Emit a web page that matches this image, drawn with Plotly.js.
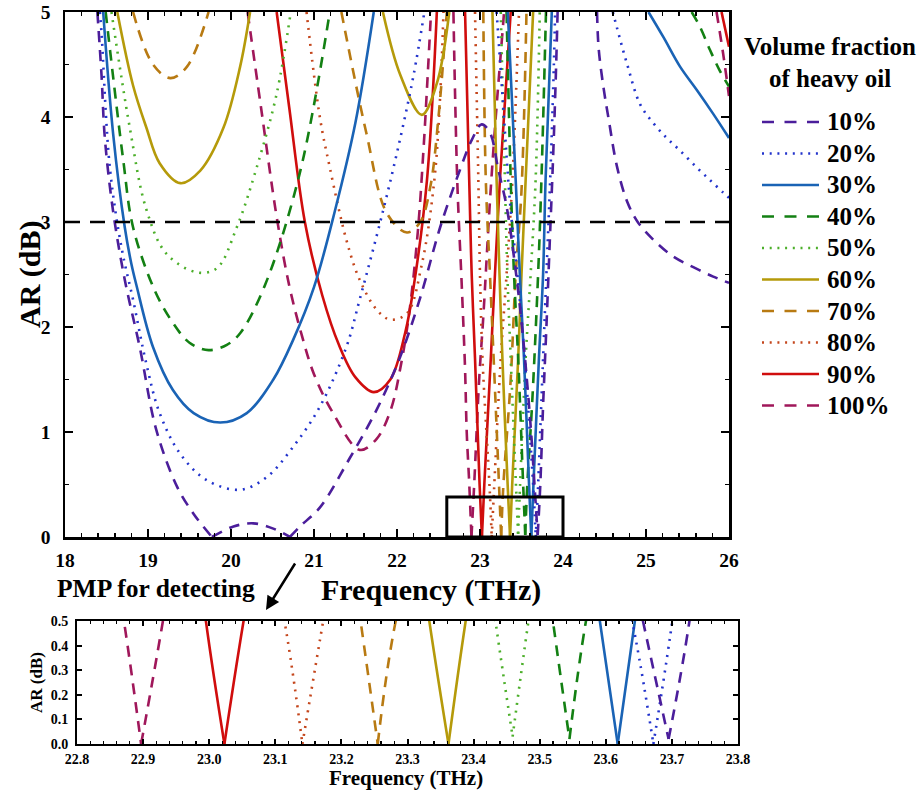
<!DOCTYPE html>
<html><head><meta charset="utf-8">
<script src="https://cdn.plot.ly/plotly-3.0.1.min.js"></script>
<style>html,body{margin:0;padding:0;background:#fff}#chart{width:922px;height:795px}</style>
</head><body><div id="chart"></div>
<script>
// ---------------- DATA ----------------
const seriesLabels = ['10%','20%','30%','40%','50%','60%','70%','80%','90%','100%'];

const freq10 = [18.39,18.44,18.48,18.58,18.72,18.9,19.1,19.35,19.55,19.77,20.03,20.27,20.51,20.71,20.83,21.07,21.43,21.76,22.04,22.28,22.52,22.76,22.9,23.02,23.12,23.22,23.32,23.42,23.5,23.57,23.62,23.657,23.695,23.726,23.76,23.8,23.84,23.88,23.91,23.935,null,24.41,24.43,24.49,24.55,24.65,24.77,24.9,25.09,25.33,25.57,25.81,26];
const ar10   = [5.0,4.4,3.8,3.1,2.45,1.81,1.02,0.48,0.22,0.0,0.1,0.13,0.08,0.0,0.1,0.28,0.75,1.22,1.72,2.28,2.95,3.5,3.78,3.93,3.85,3.5,3.15,2.6,2.05,1.45,0.95,0.49,0.02,0.49,1.25,2.0,2.8,3.6,4.3,5.0,null,5.0,4.65,4.27,3.98,3.53,3.2,3.0,2.83,2.67,2.57,2.48,2.42];

const freq20 = [18.42,18.44,18.54,18.68,18.82,18.98,19.14,19.39,19.71,20.11,20.43,20.75,21.07,21.39,21.55,21.83,22.04,22.2,22.33,null,23.2,23.28,23.36,23.45,23.52,23.6,23.645,23.672,23.698,23.74,23.8,23.85,23.89,23.905,null,24.6,24.65,24.77,24.93,25.09,25.25,25.41,25.61,25.77,25.93,26];
const ar20   = [5.0,4.8,3.52,2.76,2.26,1.65,1.18,0.79,0.54,0.45,0.57,0.86,1.24,1.81,2.26,3.1,3.8,4.4,5.0,null,5.0,4.1,3.2,2.5,1.9,1.0,0.43,0.0,0.45,1.3,2.5,3.5,4.5,5.0,null,5.0,4.85,4.51,4.12,3.94,3.8,3.68,3.52,3.4,3.28,3.23];

const freq30 = [18.46,18.58,18.72,18.8,18.86,19.06,19.3,19.55,19.87,20.19,20.51,20.75,21.0,21.25,21.5,21.72,null,23.335,23.43,23.48,23.53,23.591,23.618,23.644,23.71,23.76,23.79,23.865,null,25.03,25.21,25.41,25.61,25.81,26];
const ar30   = [5.0,3.84,2.95,2.6,2.4,1.81,1.4,1.18,1.09,1.18,1.5,1.88,2.38,3.1,3.95,5.0,null,5.0,3.4,2.5,1.7,0.5,0.0,0.5,1.7,2.5,3.4,5.0,null,5.0,4.76,4.48,4.26,4.03,3.8];

const freq40 = [18.49,18.7,18.82,19.08,19.3,19.5,19.73,19.95,20.11,20.41,20.83,21.19,null,23.32,23.37,23.41,23.46,23.52,23.545,23.57,23.63,23.7,23.74,23.795,null,25.55,25.65,25.77,25.89,26];
const ar40   = [5.0,3.6,2.95,2.35,2.04,1.85,1.78,1.83,1.94,2.4,3.47,5.0,null,5.0,3.4,2.5,1.7,0.5,0.02,0.5,1.3,2.5,3.4,5.0,null,5.0,4.86,4.64,4.44,4.29];

const freq50 = [18.56,18.78,18.98,19.22,19.59,19.83,20.07,20.31,20.55,20.72,null,23.25,23.3,23.33,23.37,23.433,23.459,23.483,23.55,23.61,23.67,23.72];
const ar50   = [5.0,3.9,3.12,2.7,2.52,2.56,2.95,3.52,4.22,5.0,null,5.0,3.4,2.5,1.7,0.5,0.03,0.5,1.7,2.5,3.4,5.0];

const freq60 = [18.63,18.82,18.98,19.14,19.39,19.63,19.91,20.11,20.23,null,21.83,22.04,22.3,22.48,22.63,null,23.15,23.2,23.235,23.27,23.333,23.362,23.388,23.46,23.5,23.55,23.64];
const ar60   = [5.0,4.3,3.9,3.56,3.37,3.49,3.9,4.48,5.0,null,5.0,4.4,4.02,4.32,5.0,null,5.0,3.4,2.5,1.7,0.5,0.0,0.5,1.7,2.5,3.4,5.0];

const freq70 = [18.82,19.06,19.27,19.47,19.73,null,21.33,21.63,21.88,22.12,22.28,22.4,22.5,22.6,null,23.04,23.07,23.12,23.17,23.229,23.255,23.28,23.37,23.43,23.5,23.56];
const ar70   = [5.0,4.5,4.37,4.48,5.0,null,5.0,3.85,3.08,2.9,3.0,3.33,4.0,5.0,null,5.0,3.4,2.5,1.6,0.5,0.0,0.47,1.5,2.5,3.3,5.0];

const freq80 = [20.91,21.07,21.19,21.39,21.55,21.76,21.92,22.12,22.3,22.45,22.52,22.56,null,22.94,22.98,23.0,23.03,23.117,23.141,23.168,23.25,23.32,23.39,23.47];
const ar80   = [5.0,4.0,3.52,2.83,2.45,2.16,2.07,2.13,2.6,3.4,4.2,5.0,null,5.0,3.4,2.5,1.7,0.45,0.0,0.43,1.7,2.5,3.4,5.0];

const freq90 = [20.55,20.7,20.89,21.1,21.3,21.5,21.72,21.92,22.1,22.2,22.36,22.48,null,22.82,22.87,22.9,22.94,22.995,23.023,23.052,23.13,23.18,23.24,23.37,null,25.91,26];
const ar90   = [5.0,4.1,3.0,2.3,1.83,1.52,1.38,1.5,1.95,2.38,3.39,5.0,null,5.0,3.4,2.5,1.7,0.5,0.0,0.5,1.7,2.5,3.4,5.0,null,5.0,4.67];

const freq100 = [20.2,20.36,20.55,20.7,20.85,21.0,21.23,21.55,21.75,21.92,22.05,22.15,22.25,22.32,22.37,22.41,null,22.68,22.7,22.73,22.78,22.82,22.84,22.871,22.897,22.93,22.99,23.04,23.12,23.19,23.25,23.29,null,25.85,25.93,26];
const ar100   = [5.0,4.1,3.05,2.4,1.93,1.55,1.18,0.83,0.93,1.2,1.65,2.15,2.9,3.7,4.4,5.0,null,5.0,4.2,3.3,2.4,1.6,1.0,0.5,0.0,0.5,1.5,2.1,3.2,4.0,4.6,5.0,null,5.0,4.6,4.2];

const thresholdAR = 3;                 // horizontal 3 dB reference line
const zoomBoxFreq = [22.6, 24.0];      // rectangle marking the zoomed region
const zoomBoxAR = [0, 0.38];
const mainFreqRange = [18, 26];
const mainARRange = [0, 5];
const insetFreqRange = [22.8, 23.8];
const insetARRange = [0, 0.5];

// ---------------- STYLES ----------------
const FONT = '"Liberation Serif", serif';
const freqs = [freq10,freq20,freq30,freq40,freq50,freq60,freq70,freq80,freq90,freq100];
const ars = [ar10,ar20,ar30,ar40,ar50,ar60,ar70,ar80,ar90,ar100];
const colors = ['#4b1e9b','#2233cc','#1a63b5','#138013','#4caf2a','#b59a0a','#b87a12','#c4461c','#d00d0d','#a0175a'];
const DASH = '11px,8px', DOT = '2px,6px';
const dashes = [DASH, DOT, 'solid', DASH, DOT, 'solid', DASH, DOT, 'solid', DASH];
const legDashes = ['12px,10.5px', '2px,5.7px', 'solid', '12px,10.5px', '2px,5.7px', 'solid', '12px,10.5px', '2px,5.7px', 'solid', '12px,10.5px'];

function segments(xs, ys) {
  const segs = []; let cur = [];
  for (let i = 0; i < xs.length; i++) {
    if (xs[i] === null || ys[i] === null) { if (cur.length) segs.push(cur); cur = []; continue; }
    cur.push([xs[i], ys[i]]);
  }
  if (cur.length) segs.push(cur);
  const out = [];
  segs.forEach(s => {
    let start = 0;
    for (let i = 1; i < s.length - 1; i++) {
      if (s[i][1] < 0.1 && s[i][1] <= s[i-1][1] && s[i][1] <= s[i+1][1]) {
        out.push(s.slice(start, i + 1)); start = i;
      }
    }
    out.push(s.slice(start));
  });
  return out;
}

const traces = [];
for (let k = freqs.length - 1; k >= 0; k--) {
  const segs = segments(freqs[k], ars[k]);
  segs.forEach(seg => {
    const base = {
      type: 'scatter', mode: 'lines', showlegend: false, hoverinfo: 'skip',
      x: seg.map(p => p[0]), y: seg.map(p => p[1]),
      line: {color: colors[k], width: 2.6, dash: dashes[k], shape: 'spline', smoothing: 1}
    };
    traces.push(Object.assign({}, base, {xaxis: 'x', yaxis: 'y', name: seriesLabels[k]}));
    const inInset = seg.some(p => p[0] >= insetFreqRange[0] - 0.3 && p[0] <= insetFreqRange[1] + 0.3);
    if (inInset) traces.push(Object.assign({}, base, {xaxis: 'x2', yaxis: 'y2', name: seriesLabels[k]}));
  });
}

// ---------------- LAYOUT ----------------
const W = 922, H = 795;
const px = v => v / W, py = v => 1 - v / H;

function axisCommon(size) {
  return {
    ticks: 'inside', tickcolor: 'black', tickwidth: 2, showline: true, linecolor: 'black',
    mirror: 'allticks', showgrid: false, zeroline: false, fixedrange: true,
    tickfont: {family: FONT, size: size, color: 'black', weight: 'bold'}
  };
}

const layout = {
  width: W, height: H, margin: {l: 0, r: 0, t: 0, b: 0},
  paper_bgcolor: 'white', plot_bgcolor: 'white', showlegend: false,
  font: {family: FONT, color: 'black'},
  xaxis: Object.assign(axisCommon(19.5), {
    domain: [px(65), px(729)], range: mainFreqRange, tick0: 18, dtick: 1, ticklen: 8, linewidth: 2.5,
    anchor: 'y', ticklabelstandoff: 4,
    minor: {dtick: 0.2, ticks: 'inside', ticklen: 4, tickwidth: 1.5, tickcolor: 'black', showgrid: false}
  }),
  yaxis: Object.assign(axisCommon(19.5), {
    domain: [py(537), py(12)], range: mainARRange, tick0: 0, dtick: 1, ticklen: 8, linewidth: 2.5,
    anchor: 'x', ticklabelstandoff: 8,
    minor: {dtick: 0.5, ticks: 'inside', ticklen: 4, tickwidth: 1.5, tickcolor: 'black', showgrid: false}
  }),
  xaxis2: Object.assign(axisCommon(14), {
    domain: [px(77), px(738)], range: insetFreqRange, tick0: 22.8, dtick: 0.1, tickformat: '.1f',
    ticklen: 5, linewidth: 2, anchor: 'y2', ticklabelstandoff: 1,
    minor: {dtick: 0.02, ticks: 'inside', ticklen: 3, tickwidth: 1.2, tickcolor: 'black', showgrid: false}
  }),
  yaxis2: Object.assign(axisCommon(14), {
    domain: [py(744), py(621)], range: insetARRange, tick0: 0, dtick: 0.1, tickformat: '.1f',
    ticklen: 5, linewidth: 2, anchor: 'x2', ticklabelstandoff: 4
  }),
  shapes: [
    {type: 'line', xref: 'x domain', yref: 'y', x0: 0, x1: 1, y0: thresholdAR, y1: thresholdAR,
     line: {color: 'black', width: 2.5, dash: '15px,10px'}, layer: 'above'},
    {type: 'rect', xref: 'x', yref: 'y', x0: zoomBoxFreq[0], x1: zoomBoxFreq[1], y0: zoomBoxAR[0], y1: zoomBoxAR[1],
     line: {color: 'black', width: 3}, fillcolor: 'rgba(0,0,0,0)', layer: 'above'}
  ],
  annotations: [
    {xref: 'paper', yref: 'paper', x: px(431), y: py(590), text: 'Frequency (THz)', showarrow: false,
     font: {family: FONT, size: 30, weight: 'bold', color: 'black'}, xanchor: 'center', yanchor: 'middle'},
    {xref: 'paper', yref: 'paper', x: px(30), y: py(274), text: 'AR (dB)', showarrow: false, textangle: -90,
     font: {family: FONT, size: 30, weight: 'bold', color: 'black'}, xanchor: 'center', yanchor: 'middle'},
    {xref: 'paper', yref: 'paper', x: px(156), y: py(588), text: 'PMP for detecting', showarrow: false,
     font: {family: FONT, size: 25.5, weight: 'bold', color: 'black'}, xanchor: 'center', yanchor: 'middle'},
    {xref: 'paper', yref: 'paper', x: px(266), y: py(610), text: '', showarrow: true, axref: 'pixel', ayref: 'pixel',
     ax: 30, ay: -48, arrowhead: 2, arrowsize: 1.1, arrowwidth: 2.5, arrowcolor: 'black'},
    {xref: 'paper', yref: 'paper', x: px(406), y: py(778), text: 'Frequency (THz)', showarrow: false,
     font: {family: FONT, size: 21, weight: 'bold', color: 'black'}, xanchor: 'center', yanchor: 'middle'},
    {xref: 'paper', yref: 'paper', x: px(36), y: py(683), text: 'AR (dB)', showarrow: false, textangle: -90,
     font: {family: FONT, size: 17, weight: 'bold', color: 'black'}, xanchor: 'center', yanchor: 'middle'},
    {xref: 'paper', yref: 'paper', x: px(830), y: py(47), text: 'Volume fraction', showarrow: false,
     font: {family: FONT, size: 25, weight: 'bold', color: 'black'}, xanchor: 'center', yanchor: 'middle'},
    {xref: 'paper', yref: 'paper', x: px(830), y: py(79), text: 'of heavy oil', showarrow: false,
     font: {family: FONT, size: 25, weight: 'bold', color: 'black'}, xanchor: 'center', yanchor: 'middle'}
  ]
};

// custom legend: sample line + label per series
seriesLabels.forEach((lab, i) => {
  const yy = 122 + i * 31.5;
  layout.shapes.push({type: 'line', xref: 'paper', yref: 'paper', x0: px(762), x1: px(819), y0: py(yy), y1: py(yy),
    line: {color: colors[i], width: 2.6, dash: legDashes[i]}});
  layout.annotations.push({xref: 'paper', yref: 'paper', x: px(825), y: py(yy), text: lab, showarrow: false,
    xanchor: 'left', yanchor: 'middle', font: {family: FONT, size: 25, weight: 'bold', color: 'black'}});
});

Plotly.newPlot('chart', traces, layout, {staticPlot: true, displayModeBar: false});
</script>
</body></html>
